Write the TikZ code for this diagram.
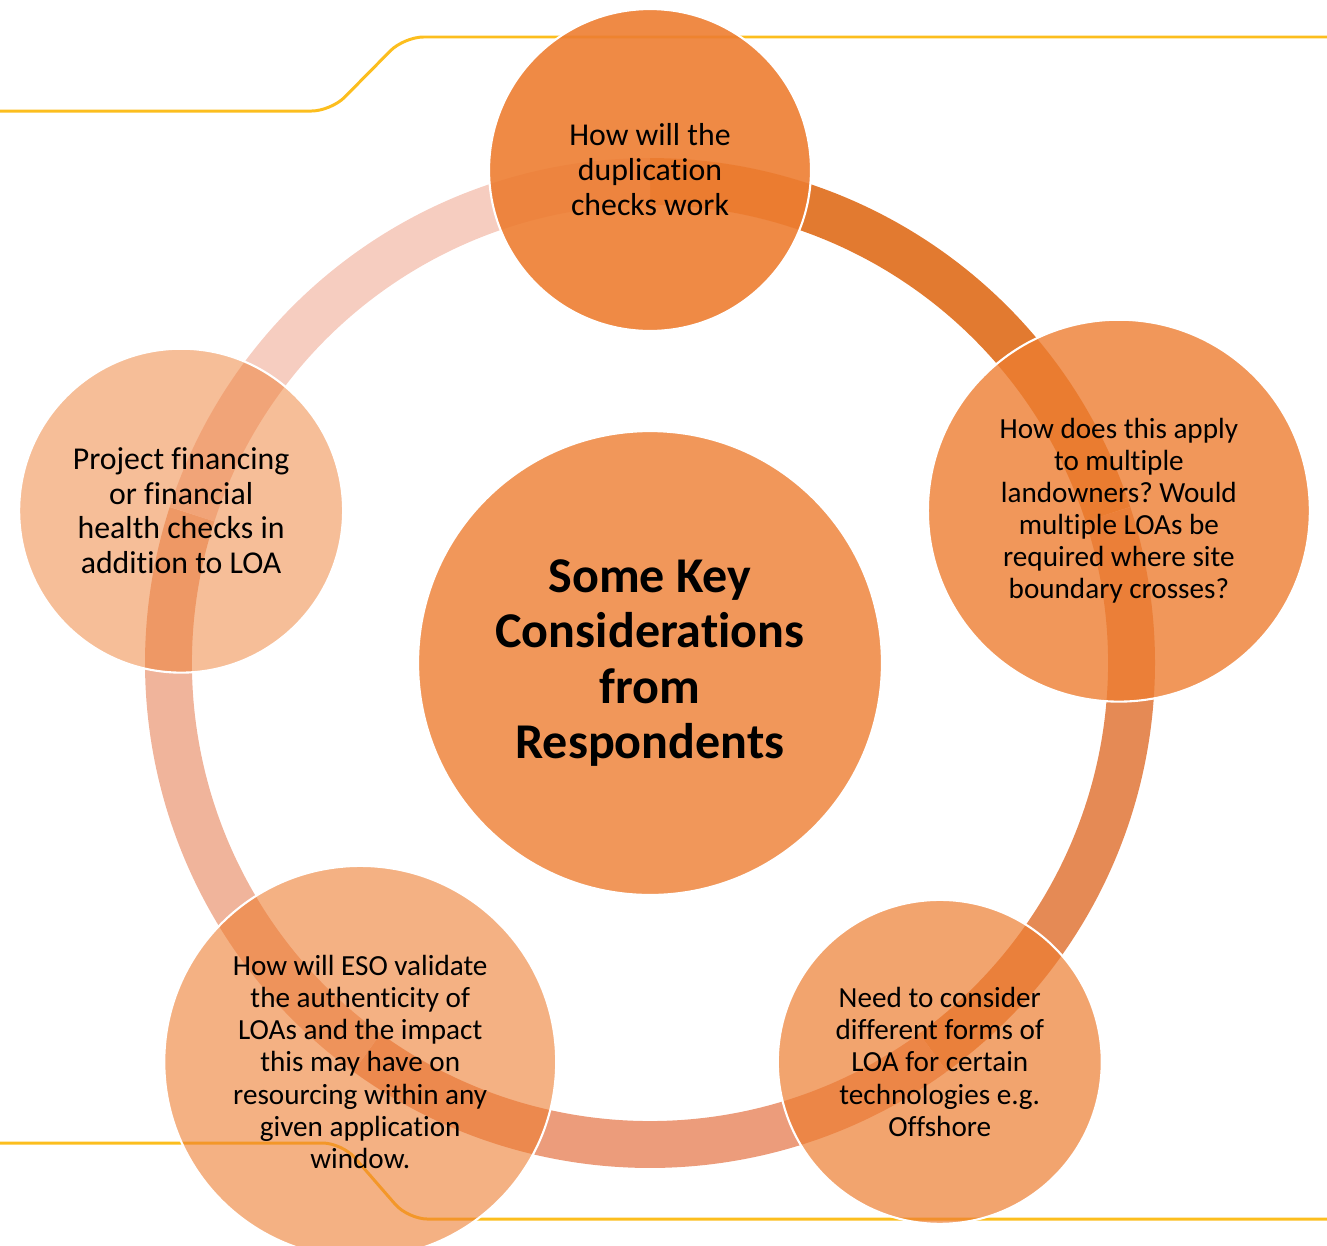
\documentclass[tikz,border=0pt]{standalone}
\usepackage{fontspec}
\setmainfont{Carlito}[Ligatures=CommonOff]
\usepackage{tikz}
\usetikzlibrary{calc}
\frenchspacing

\definecolor{accent}{RGB}{237,125,49}
\definecolor{gold}{RGB}{252,190,30}
\definecolor{arcA}{RGB}{226,122,48}
\definecolor{arcB}{RGB}{229,138,85}
\definecolor{arcC}{RGB}{236,156,123}
\definecolor{arcD}{RGB}{240,180,155}
\definecolor{arcE}{RGB}{246,205,192}

\begin{document}
\begin{tikzpicture}[x=0.02cm, y=0.02cm,
        bubble/.style={circle, fill=accent, draw=white, line width=1.2pt,
            text opacity=1, align=center, inner sep=0pt},
        smalltext/.style={font=\fontsize{16.6}{18.3}\selectfont},
        bigtext/.style={font=\fontsize{18.1}{19.9}\selectfont},
        band/.style={line width=26.7pt},
        goldline/.style={draw=gold, line width=1.7pt, rounded corners=11pt}]
        \useasboundingbox (0,0) rectangle (1327,-1245);

        \coordinate (O) at (650,-663);
        \coordinate (T) at ($(O)+(90:493)$);
        \coordinate (R) at ($(O)+(18:493)$);
        \coordinate (BR) at ($(O)+(-54:493)$);
        \coordinate (BL) at ($(O)+(-126:493)$);
        \coordinate (L) at ($(O)+(162:493)$);

        % yellow lines
        \coordinate (g1) at (0,-111);
        \coordinate (g2) at (331,-111);
        \coordinate (g3) at (404,-37);
        \coordinate (g4) at (1327,-37);
        \coordinate (h1) at (0,-1143);
        \coordinate (h2) at (342,-1143);
        \coordinate (h3) at (408,-1219);
        \coordinate (h4) at (1327,-1219);
        \draw[goldline] (g1) -- (g2) -- (g3) -- (g4);
        \draw[goldline] (h1) -- (h2) -- (h3) -- (h4);

        % ring
        \draw[band, arcA] ([shift={(90:481.5)}]O) arc[start angle=90, end angle=18, radius=481.5];
        \draw[band, arcB] ([shift={(18:481.5)}]O) arc[start angle=18, end angle=-54, radius=481.5];
        \draw[band, arcC] ([shift={(-54:481.5)}]O) arc[start angle=-54, end angle=-126, radius=481.5];
        \draw[band, arcD] ([shift={(-126:481.5)}]O) arc[start angle=-126, end angle=-198, radius=481.5];
        \draw[band, arcE] ([shift={(-198:481.5)}]O) arc[start angle=-198, end angle=-270, radius=481.5];

        % circles
        \node[bubble, bigtext, fill opacity=0.9, minimum size=6.44cm] (top) at (T)
            {How will the\\duplication\\checks work};
        \node[bubble, smalltext, fill opacity=0.8, minimum size=7.64cm] (right) at (R)
            {How does this apply\\to multiple\\landowners? Would\\multiple LOAs be\\required where site\\boundary crosses?};
        \node[bubble, smalltext, fill opacity=0.7, minimum size=6.48cm] (botright) at (BR)
            {Need to consider\\different forms of\\LOA for certain\\technologies e.g.\\Offshore};
        \node[bubble, smalltext, fill opacity=0.6, minimum size=7.84cm] (botleft) at (BL)
            {How will ESO validate\\the authenticity of\\LOAs and the impact\\this may have on\\resourcing within any\\given application\\window.};
        \node[bubble, bigtext, fill opacity=0.5, minimum size=6.48cm] (left) at (L)
            {Project financing\\or financial\\health checks in\\addition to LOA};
        \node[bubble, fill opacity=0.8, minimum size=9.28cm,
            font=\fontsize{28.5}{31.4}\selectfont\bfseries] (centre) at (O)
            {Some Key\\Considerations\\from\\Respondents};
    \end{tikzpicture}
\end{document}
